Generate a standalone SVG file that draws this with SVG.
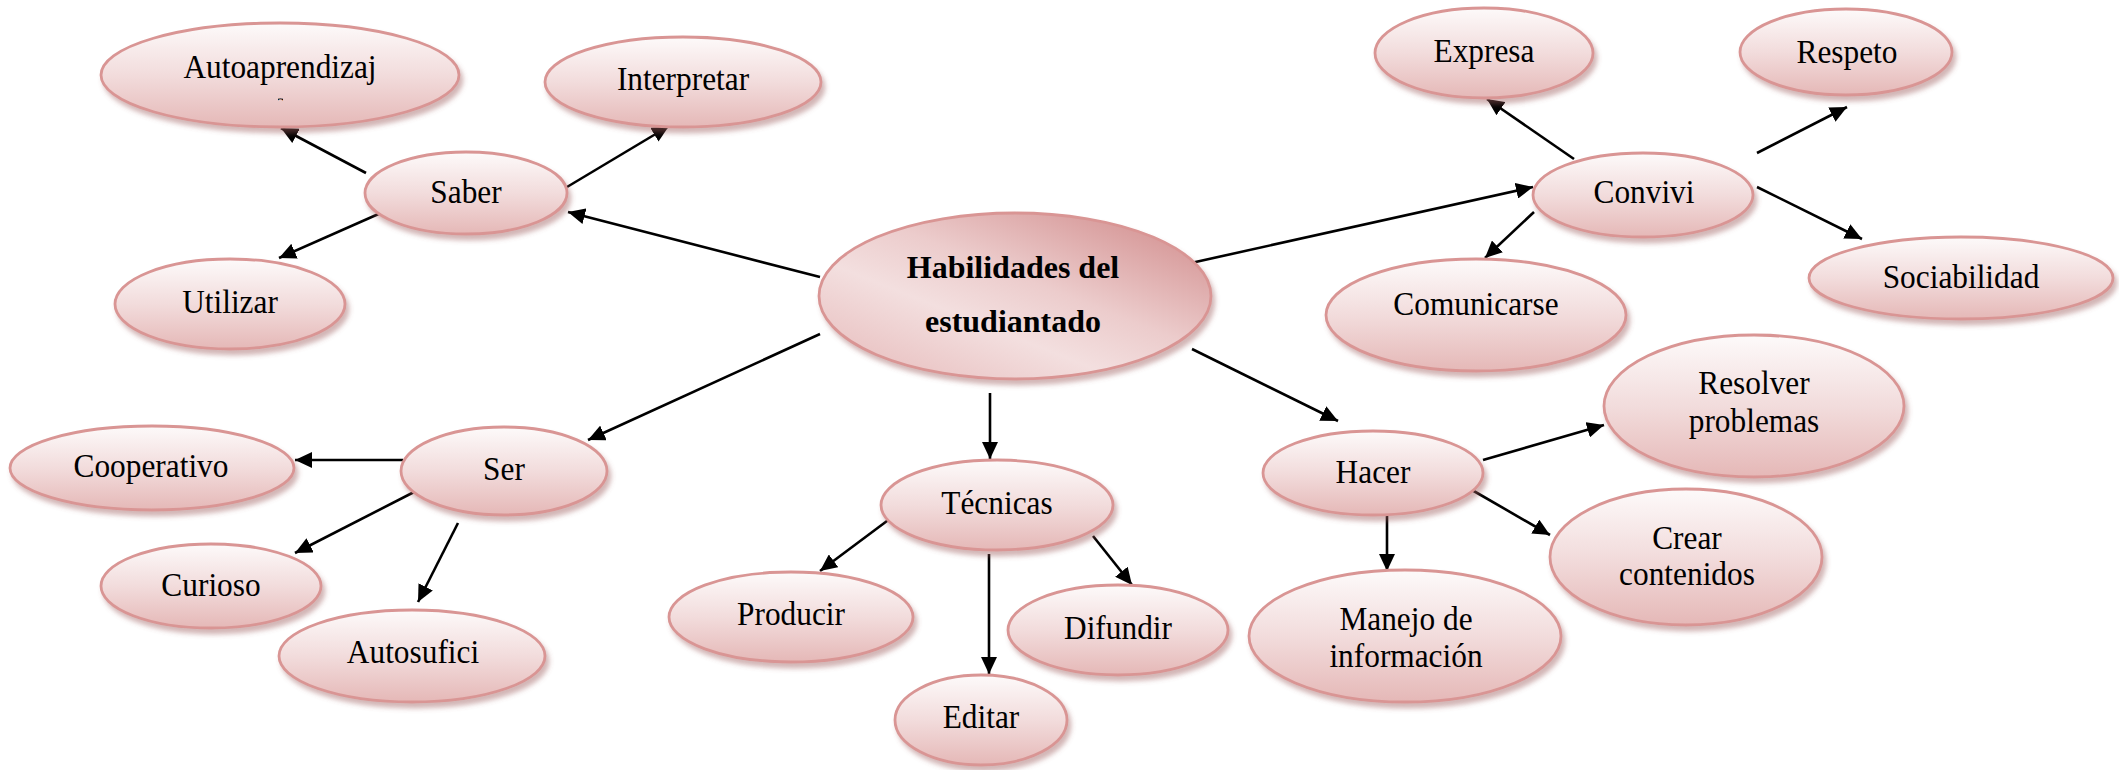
<svg xmlns="http://www.w3.org/2000/svg" width="2119" height="770" viewBox="0 0 2119 770">
<style>
  .n { fill: url(#g); stroke: #d99594; stroke-width: 2.8; filter: url(#sh); }
  .c { fill: url(#gc); stroke: #d99594; stroke-width: 2.8; filter: url(#sh); }
  text { font-family: "Liberation Serif", "Times New Roman", serif; font-size: 33px; fill: #000; text-anchor: middle; transform-box: fill-box; transform-origin: center; transform: scaleX(0.95); }
  .b { font-weight: bold; font-size: 32px; transform: none; }
  #edges line { stroke: #000; stroke-width: 2.6; marker-end: url(#ar); }
</style>
<defs>
  <linearGradient id="g" x1="0" y1="0" x2="0" y2="1">
    <stop offset="0" stop-color="#fdfafa"/>
    <stop offset="0.5" stop-color="#f2dcdc"/>
    <stop offset="1" stop-color="#e5b8b7"/>
  </linearGradient>
  <linearGradient id="gc" x1="0.1" y1="0.9" x2="0.85" y2="0.1">
    <stop offset="0" stop-color="#e9c2c2"/>
    <stop offset="0.35" stop-color="#f3dfdf"/>
    <stop offset="0.6" stop-color="#eccccc"/>
    <stop offset="1" stop-color="#d79a9a"/>
  </linearGradient>
  <filter id="sh" x="-10%" y="-10%" width="125%" height="135%">
    <feDropShadow dx="3" dy="5" stdDeviation="2.5" flood-color="#9c5a5a" flood-opacity="0.45"/>
  </filter>
  <marker id="ar" markerUnits="userSpaceOnUse" markerWidth="18" markerHeight="16" refX="17" refY="8" orient="auto">
    <path d="M0,0 L17,8 L0,16 z" fill="#000"/>
  </marker>
  <clipPath id="clipE"><rect x="278" y="98.5" width="5" height="2"/></clipPath>
</defs>
<rect width="2119" height="770" fill="#fff"/>

<g id="edges">
  <line x1="820" y1="277" x2="568" y2="212"/>
  <line x1="366" y1="173" x2="281" y2="128"/>
  <line x1="567" y1="187" x2="669" y2="126"/>
  <line x1="383" y1="212" x2="279" y2="258"/>
  <line x1="1191" y1="263" x2="1533" y2="187"/>
  <line x1="1574" y1="159" x2="1487" y2="99"/>
  <line x1="1757" y1="153" x2="1847" y2="107"/>
  <line x1="1757" y1="187" x2="1862" y2="239"/>
  <line x1="1534" y1="212" x2="1485" y2="258"/>
  <line x1="1192" y1="349" x2="1338" y2="421"/>
  <line x1="1483" y1="460" x2="1604" y2="425"/>
  <line x1="1472" y1="490" x2="1550" y2="535"/>
  <line x1="1387" y1="514" x2="1387" y2="571"/>
  <line x1="990" y1="393" x2="990" y2="459"/>
  <line x1="895" y1="515" x2="820" y2="571"/>
  <line x1="989" y1="554" x2="989" y2="674"/>
  <line x1="1093" y1="536" x2="1132" y2="585"/>
  <line x1="820" y1="334" x2="588" y2="440"/>
  <line x1="403" y1="460" x2="295" y2="460"/>
  <line x1="418" y1="490" x2="295" y2="553"/>
  <line x1="458" y1="523" x2="418" y2="602"/>
</g>

<g id="n-center"><ellipse class="c" cx="1015" cy="296" rx="196" ry="83"/>
  <text class="b" x="1013" y="278">Habilidades del</text>
  <text class="b" x="1013" y="332">estudiantado</text></g>

<g id="n-saber"><ellipse class="n" cx="466" cy="193" rx="101" ry="41"/><text x="466" y="203">Saber</text></g>
<g id="n-autoaprendizaje"><ellipse class="n" cx="280" cy="75" rx="179" ry="52"/><text x="280" y="78">Autoaprendizaj</text><text x="280" y="114" clip-path="url(#clipE)" style="transform:none">e</text></g>
<g id="n-interpretar"><ellipse class="n" cx="683" cy="82" rx="138" ry="45"/><text x="683" y="90">Interpretar</text></g>
<g id="n-utilizar"><ellipse class="n" cx="230" cy="304" rx="115" ry="45"/><text x="230" y="313">Utilizar</text></g>

<g id="n-convivi"><ellipse class="n" cx="1643" cy="195" rx="110" ry="42"/><text x="1644" y="203">Convivi</text></g>
<g id="n-expresa"><ellipse class="n" cx="1484" cy="53" rx="109" ry="45"/><text x="1484" y="62">Expresa</text></g>
<g id="n-respeto"><ellipse class="n" cx="1846" cy="52" rx="106" ry="43"/><text x="1847" y="63">Respeto</text></g>
<g id="n-sociabilidad"><ellipse class="n" cx="1961" cy="278" rx="152" ry="41"/><text x="1961" y="288">Sociabilidad</text></g>
<g id="n-comunicarse"><ellipse class="n" cx="1476" cy="315" rx="150" ry="56"/><text x="1476" y="315">Comunicarse</text></g>

<g id="n-hacer"><ellipse class="n" cx="1373" cy="473" rx="110" ry="42"/><text x="1373" y="483">Hacer</text></g>
<g id="n-resolver"><ellipse class="n" cx="1754" cy="406" rx="150" ry="71"/><text x="1754" y="394">Resolver</text><text x="1754" y="432">problemas</text></g>
<g id="n-crear"><ellipse class="n" cx="1686" cy="557" rx="136" ry="68"/><text x="1687" y="549">Crear</text><text x="1687" y="585">contenidos</text></g>
<g id="n-manejo"><ellipse class="n" cx="1405" cy="636" rx="156" ry="66"/><text x="1406" y="630">Manejo de</text><text x="1406" y="667">información</text></g>

<g id="n-tecnicas"><ellipse class="n" cx="997" cy="505" rx="116" ry="45"/><text x="997" y="514">Técnicas</text></g>
<g id="n-producir"><ellipse class="n" cx="791" cy="617" rx="122" ry="45"/><text x="791" y="625">Producir</text></g>
<g id="n-difundir"><ellipse class="n" cx="1118" cy="630" rx="110" ry="45"/><text x="1118" y="639">Difundir</text></g>
<g id="n-editar"><ellipse class="n" cx="981" cy="720" rx="86" ry="45"/><text x="981" y="728">Editar</text></g>

<g id="n-ser"><ellipse class="n" cx="504" cy="471" rx="103" ry="44"/><text x="504" y="480">Ser</text></g>
<g id="n-cooperativo"><ellipse class="n" cx="152" cy="468" rx="142" ry="42"/><text x="151" y="477">Cooperativo</text></g>
<g id="n-curioso"><ellipse class="n" cx="211" cy="586" rx="110" ry="42"/><text x="211" y="596">Curioso</text></g>
<g id="n-autosufici"><ellipse class="n" cx="412" cy="656" rx="133" ry="46"/><text x="413" y="663">Autosufici</text></g>
</svg>
